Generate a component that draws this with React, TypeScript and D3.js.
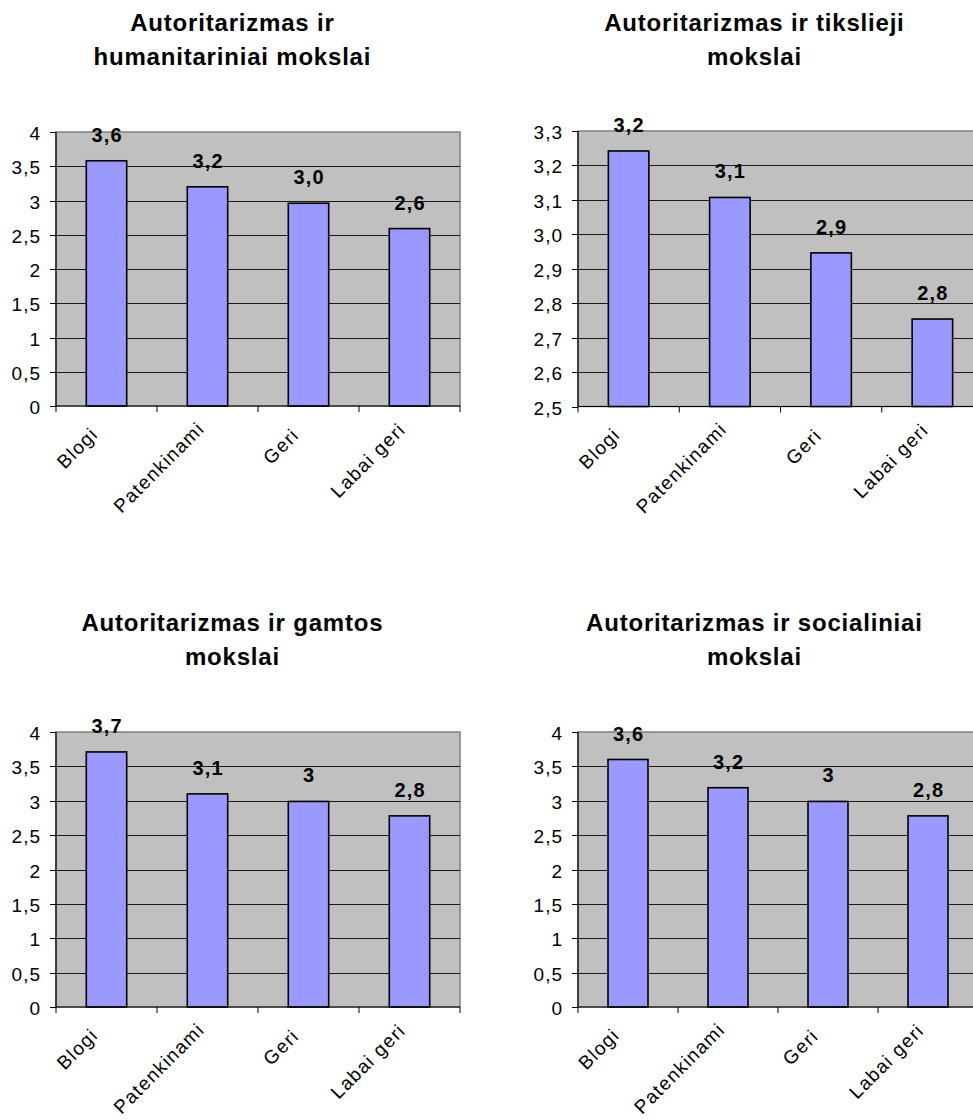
import React, { useEffect, useRef } from "react";
import * as d3 from "d3";

// ---------- data ----------
const categories = ["Blogi", "Patenkinami", "Geri", "Labai geri"];

const humanitarianValues = [3.58, 3.2, 2.96, 2.59];
const humanitarianLabels = ["3,6", "3,2", "3,0", "2,6"];

const exactValues = [3.242, 3.107, 2.946, 2.754];
const exactLabels = ["3,2", "3,1", "2,9", "2,8"];

const naturalValues = [3.71, 3.1, 2.99, 2.78];
const naturalLabels = ["3,7", "3,1", "3", "2,8"];

const socialValues = [3.6, 3.19, 2.99, 2.78];
const socialLabels = ["3,6", "3,2", "3", "2,8"];

const ticksZeroToFour = [0, 0.5, 1, 1.5, 2, 2.5, 3, 3.5, 4];
const tickLabelsZeroToFour = ["0", "0,5", "1", "1,5", "2", "2,5", "3", "3,5", "4"];

const ticksExact = [2.5, 2.6, 2.7, 2.8, 2.9, 3.0, 3.1, 3.2, 3.3];
const tickLabelsExact = ["2,5", "2,6", "2,7", "2,8", "2,9", "3,0", "3,1", "3,2", "3,3"];

const titleHumanitarian = ["Autoritarizmas ir", "humanitariniai mokslai"];
const titleExact = ["Autoritarizmas ir tikslieji", "mokslai"];
const titleNatural = ["Autoritarizmas ir gamtos", "mokslai"];
const titleSocial = ["Autoritarizmas ir socialiniai", "mokslai"];

// ---------- layout ----------
const FONT = "'Liberation Sans', Arial, Helvetica, sans-serif";

type Panel = {
  title: string[];
  values: number[];
  labels: string[];
  ticks: number[];
  tickLabels: string[];
  domain: [number, number];
  left: number;
  right: number;
  top: number;
  bottom: number;
  titleX: number;
  titleY: number;
};

const panels: Panel[] = [
  {
    title: titleHumanitarian, values: humanitarianValues, labels: humanitarianLabels,
    ticks: ticksZeroToFour, tickLabels: tickLabelsZeroToFour, domain: [0, 4],
    left: 56, right: 460, top: 132, bottom: 406, titleX: 232, titleY: 31,
  },
  {
    title: titleExact, values: exactValues, labels: exactLabels,
    ticks: ticksExact, tickLabels: tickLabelsExact, domain: [2.5, 3.3],
    left: 578, right: 983, top: 131, bottom: 406.5, titleX: 754, titleY: 31,
  },
  {
    title: titleNatural, values: naturalValues, labels: naturalLabels,
    ticks: ticksZeroToFour, tickLabels: tickLabelsZeroToFour, domain: [0, 4],
    left: 56, right: 460, top: 732, bottom: 1007, titleX: 232, titleY: 631,
  },
  {
    title: titleSocial, values: socialValues, labels: socialLabels,
    ticks: ticksZeroToFour, tickLabels: tickLabelsZeroToFour, domain: [0, 4],
    left: 578, right: 978, top: 732, bottom: 1007, titleX: 754, titleY: 631,
  },
];

let measureCtx: CanvasRenderingContext2D | null = null;
function measure(text: string, font: string): number {
  if (!measureCtx) measureCtx = document.createElement("canvas").getContext("2d");
  if (!measureCtx) return text.length * 9;
  measureCtx.font = font;
  return measureCtx.measureText(text).width;
}

export default function App() {
  const ref = useRef<SVGSVGElement | null>(null);

  useEffect(() => {
    const svg = d3.select(ref.current);
    svg.selectAll("*").remove();

    panels.forEach((p) => {
      const g = svg.append("g");
      const x = d3.scaleBand<string>().domain(categories).range([p.left, p.right]).paddingInner(0).paddingOuter(0);
      const y = d3.scaleLinear().domain(p.domain).range([p.bottom, p.top]);
      const bw = x.bandwidth() * 0.4;

      // title
      p.title.forEach((line, i) => {
        g.append("text")
          .attr("x", p.titleX + 0.4)
          .attr("y", p.titleY + i * 34)
          .attr("text-anchor", "middle")
          .attr("font-family", FONT)
          .attr("font-weight", "bold")
          .attr("font-size", 24)
          .attr("letter-spacing", 0.8)
          .attr("fill", "#000")
          .text(line);
      });

      // plot area
      g.append("rect")
        .attr("x", p.left)
        .attr("y", p.top)
        .attr("width", p.right - p.left)
        .attr("height", p.bottom - p.top)
        .attr("fill", "#C0C0C0")
        .attr("stroke", "#808080")
        .attr("stroke-width", 1.5);

      // gridlines
      g.selectAll(".grid")
        .data(p.ticks.filter((t) => t !== p.domain[0] && t !== p.domain[1]))
        .enter()
        .append("line")
        .attr("x1", p.left)
        .attr("x2", p.right)
        .attr("y1", (d) => Math.round(y(d)) + 0.5)
        .attr("y2", (d) => Math.round(y(d)) + 0.5)
        .attr("stroke", "#1a1a1a")
        .attr("stroke-width", 1);

      // bars
      g.selectAll(".bar")
        .data(p.values)
        .enter()
        .append("rect")
        .attr("x", (_, i) => (x(categories[i]) as number) + (x.bandwidth() - bw) / 2)
        .attr("y", (d) => y(d))
        .attr("width", bw)
        .attr("height", (d) => p.bottom - y(d))
        .attr("fill", "#9999FF")
        .attr("stroke", "#000")
        .attr("stroke-width", 1.6);

      // value labels
      g.selectAll(".vlabel")
        .data(p.values)
        .enter()
        .append("text")
        .attr("x", (_, i) => (x(categories[i]) as number) + x.bandwidth() / 2 + 0.6)
        .attr("y", (d) => y(d) - 19)
        .attr("text-anchor", "middle")
        .attr("font-family", FONT)
        .attr("font-weight", "bold")
        .attr("font-size", 20)
        .attr("letter-spacing", 1.2)
        .attr("fill", "#000")
        .text((_, i) => p.labels[i]);

      // y axis
      g.append("line")
        .attr("x1", p.left).attr("x2", p.left)
        .attr("y1", p.top).attr("y2", p.bottom)
        .attr("stroke", "#000").attr("stroke-width", 1.2);
      p.ticks.forEach((t, i) => {
        const yy = Math.round(y(t)) + 0.5;
        g.append("line")
          .attr("x1", p.left - 6).attr("x2", p.left)
          .attr("y1", yy).attr("y2", yy)
          .attr("stroke", "#000").attr("stroke-width", 1);
        g.append("text")
          .attr("x", p.left - 15)
          .attr("y", yy + 7)
          .attr("text-anchor", "end")
          .attr("font-family", FONT)
          .attr("font-size", 19)
          .attr("letter-spacing", 1)
          .attr("fill", "#000")
          .text(p.tickLabels[i]);
      });

      // x axis
      g.append("line")
        .attr("x1", p.left).attr("x2", p.right)
        .attr("y1", p.bottom).attr("y2", p.bottom)
        .attr("stroke", "#000").attr("stroke-width", 1.2);
      const boundaries = categories.map((c) => x(c) as number).concat([p.right]);
      boundaries.forEach((bx) => {
        g.append("line")
          .attr("x1", bx).attr("x2", bx)
          .attr("y1", p.bottom).attr("y2", p.bottom + 6)
          .attr("stroke", "#000").attr("stroke-width", 1);
      });

      // rotated category labels
      const labelFont = `19px ${FONT}`;
      categories.forEach((c) => {
        const cx = (x(c) as number) + x.bandwidth() / 2;
        const ax = cx - 12;
        const ay = p.bottom + 34;
        const len = measure(c, labelFont);
        g.append("text")
          .attr("transform", `translate(${ax},${ay}) rotate(-45)`)
          .attr("x", -len)
          .attr("y", 0)
          .attr("text-anchor", "start")
          .attr("font-family", FONT)
          .attr("font-size", 19)
          .attr("letter-spacing", 1.3)
          .attr("fill", "#000")
          .text(c);
      });
    });
  }, []);

  return (
    <svg
      ref={ref}
      width={973}
      height={1120}
      style={{ position: "absolute", left: 0, top: 0, background: "#fff", overflow: "hidden" }}
    />
  );
}
